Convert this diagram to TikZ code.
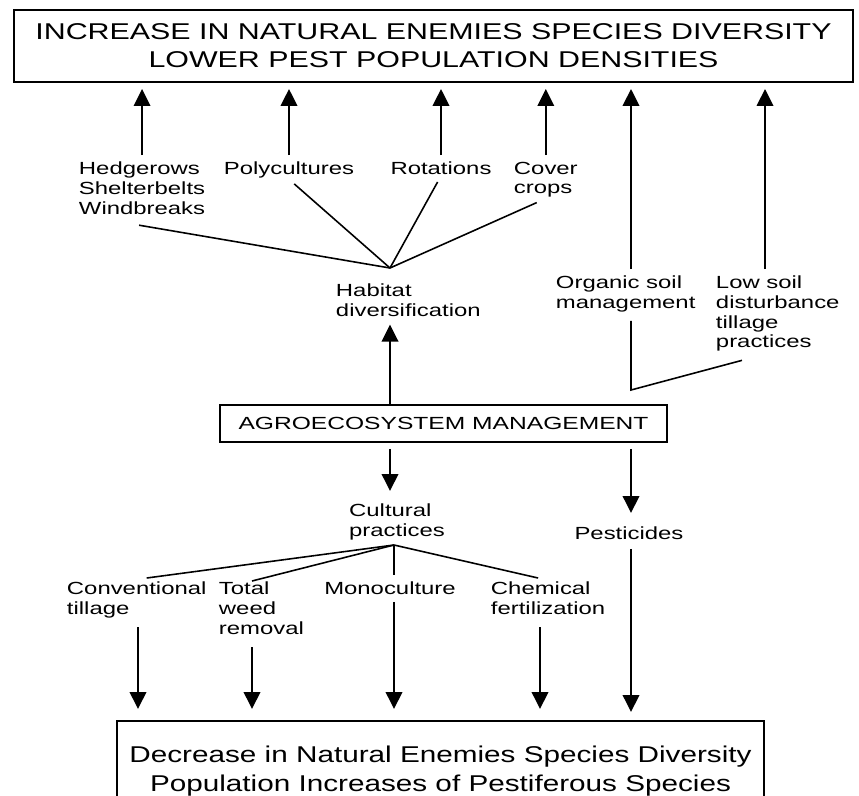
\documentclass[tikz,border=0pt]{standalone}
\usepackage{fontspec}
\setmainfont{Liberation Sans}
\newfontfamily\headfont[FakeStretch=1.33]{Liberation Sans}
\newfontfamily\tailfont[FakeStretch=1.3]{Liberation Sans}
\newfontfamily\boxfont[FakeStretch=1.4]{Liberation Sans}
\newfontfamily\lblfont[FakeStretch=1.36]{Liberation Sans}
\usetikzlibrary{arrows.meta}

\begin{document}
\begin{tikzpicture}[x=0.02cm,y=-0.02cm,line width=1.1pt,
 >={Triangle[length=3.4mm,width=3.3mm]},
 lbl/.style={align=left,inner sep=0pt,font=\lblfont\fontsize{10}{11.2}\selectfont},
 bigbox/.style={draw,line width=1.1pt,align=center,inner sep=0pt},
 up/.style={->,shorten <=0.12cm,shorten >=0.12cm},
 down/.style={->,shorten <=0.12cm,shorten >=0.22cm},
 fan/.style={line width=0.9pt}]
 \useasboundingbox (0,0) rectangle (859,795);
 \clip (0,0) rectangle (859,795);

 % boxes
 \node[bigbox,minimum width=16.78cm,minimum height=1.44cm,
  font=\headfont\fontsize{13}{16}\selectfont] (result) at (433.5,46)
  {INCREASE IN NATURAL ENEMIES SPECIES DIVERSITY\\LOWER PEST POPULATION DENSITIES};
 \node[bigbox,minimum width=8.94cm,minimum height=0.74cm,
  font=\boxfont\fontsize{10}{12}\selectfont] (agro) at (443.5,423.5) {AGROECOSYSTEM MANAGEMENT};
 \node[bigbox,minimum width=12.94cm,minimum height=2.4cm,anchor=north,
  font=\tailfont\fontsize{13}{16.5}\selectfont] (decrease) at (440.5,720)
  {Decrease in Natural Enemies Species Diversity\\Population Increases of Pestiferous Species\\[-3pt]\mbox{}};

 % upper labels
 \node[lbl,anchor=north west] (hedge) at (78,161) {Hedgerows\\Shelterbelts\\Windbreaks};
 \node[lbl,anchor=north] (poly) at (289,161) {Polycultures};
 \node[lbl,anchor=north] (rot) at (441,161) {Rotations};
 \node[lbl,anchor=north west] (cover) at (513,161) {Cover\\crops};
 \node[lbl,anchor=north west] (habitat) at (335,283) {Habitat\\diversification};
 \node[lbl,anchor=north west] (organic) at (555,275) {Organic soil\\management};
 \node[lbl,anchor=north west] (lowsoil) at (715,275) {Low soil\\disturbance\\tillage\\practices};

 % lower labels
 \node[lbl,anchor=north] (cultural) at (397,503) {Cultural\\practices};
 \node[lbl,anchor=north] (pest) at (629,526) {Pesticides};
 \node[lbl,anchor=north west] (conv) at (66,581) {Conventional\\tillage};
 \node[lbl,anchor=north west] (weed) at (218,581) {Total\\weed\\removal};
 \node[lbl,anchor=north] (mono) at (390,581) {Monoculture};
 \node[lbl,anchor=north west] (chem) at (490,581) {Chemical\\fertilization};

 % branch points and arrow feet
 \coordinate (hub) at (390,268);
 \coordinate (split) at (394,545);
 \coordinate (orgtop) at (631,275);
 \coordinate (lowtop) at (765,275);
 \coordinate (corner) at (631,390);
 \coordinate (convfoot) at (138,621);
 \coordinate (weedfoot) at (252,641);
 \coordinate (chemfoot) at (540,621);

 % habitat fan
 \draw[fan] ([shift={(-3,10)}]hedge.south) -- (hub);
 \draw[fan,shorten <=0.14cm] (poly.south) -- (hub);
 \draw[fan,shorten <=0.14cm] (rot.south) -- (hub);
 \draw[fan,shorten <=0.2cm] (cover.south) -- (hub);

 % arrows to the top box
 \draw[up] (hedge.north) -- (hedge.north |- result.south);
 \draw[up] (poly.north) -- (poly.north |- result.south);
 \draw[up] (rot.north) -- (rot.north |- result.south);
 \draw[up] (cover.north) -- (cover.north |- result.south);
 \draw[up] (orgtop) -- (orgtop |- result.south);
 \draw[up] (lowtop) -- (lowtop |- result.south);

 % soil management
 \draw[fan,shorten <=0.16cm] (orgtop |- organic.south) -- (corner) -- ([shift={(27,8)}]lowsoil.south west);
 \draw[->,shorten >=0.14cm] (agro.north -| hub) -- (habitat.south -| hub);

 % downward side
 \draw[->,shorten <=0.12cm,shorten >=0.24cm] (agro.south -| hub) -- (cultural.north -| hub);
 \draw[->,shorten <=0.12cm,shorten >=0.26cm] (agro.south -| orgtop) -- (pest.north -| orgtop);
 \draw[fan] (split) -- ([shift={(10,-3)}]conv.north);
 \draw[fan] (split) -- (weedfoot |- weed.north);
 \draw[fan] (split) -- ([shift={(-10,-3)}]chem.north);
 \draw[fan,shorten >=0.12cm] (split) -- (mono.north -| split);

 \draw[down] (convfoot) -- (convfoot |- decrease.north);
 \draw[down] (weedfoot) -- (weedfoot |- decrease.north);
 \draw[down] (mono.south -| split) -- (split |- decrease.north);
 \draw[down] (chemfoot) -- (chemfoot |- decrease.north);
 \draw[->,shorten <=0.16cm,shorten >=0.16cm] (pest.south -| orgtop) -- (orgtop |- decrease.north);
\end{tikzpicture}
\end{document}
